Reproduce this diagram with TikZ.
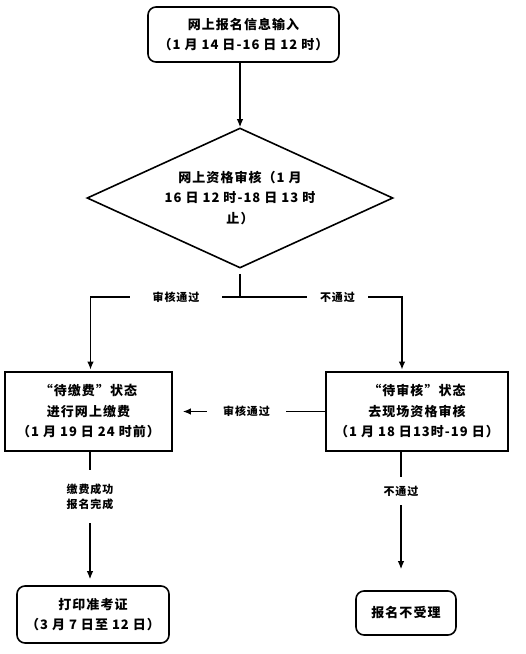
\documentclass[tikz,border=0pt]{standalone}
\usepackage{fontspec}
\setmainfont{Noto Sans CJK SC}[LetterSpace=8]
\usetikzlibrary{shapes.geometric,arrows.meta}
\begin{document}
\begin{tikzpicture}[x=1pt,y=-1pt,
 font=\fontsize{13}{20.5}\selectfont\bfseries,
 rbox/.style={draw,line width=1.6pt,rounded corners=8pt,align=center,inner sep=0},
 sbox/.style={draw,line width=1.8pt,align=center,inner sep=0},
 lbl/.style={font=\fontsize{11}{15}\selectfont\bfseries,inner sep=0,align=center},
 conn/.style={line width=1.3pt},
 arr/.style={conn,-{Latex[length=8pt,width=6.5pt]}}]
\useasboundingbox (0,0) rectangle (526,654);
\node[rbox,minimum width=191pt,minimum height=55pt] (top) at (243.5,34.5) {网上报名信息输入\\（1 月 14 日-16 日 12 时）};
\node[draw,diamond,aspect=2.19,line width=1.6pt,minimum width=306pt,minimum height=140pt,inner sep=0,align=center] (dia) at (240,198) {网上资格审核（1 月\\16 日 12 时-18 日 13 时\\止）};
\coordinate (j) at (240,297);
\node[lbl,minimum width=92pt] (l1) at (176,297) {审核通过};
\node[lbl,minimum width=61pt] (l2) at (337.5,297) {不通过};
\node[sbox,minimum width=167pt,minimum height=79pt] (lbox) at (88.5,411.5) {“待缴费”状态\\进行网上缴费\\（1 月 19 日 24 时前）};
\node[sbox,minimum width=182pt,minimum height=79pt] (rbox) at (417,411.5) {“待审核”状态\\去现场资格审核\\（1 月 18 日13时-19 日）};
\node[lbl,minimum width=79pt] (l3) at (246.5,411.5) {审核通过};
\node[lbl,minimum height=53pt] (l4) at (90,496.5) {缴费成功\\报名完成};
\node[lbl,minimum height=28pt] (l5) at (401,491) {不通过};
\node[rbox,minimum width=152pt,minimum height=57pt] (bl) at (93,614.5) {打印准考证\\（3 月 7 日至 12 日）};
\node[rbox,minimum width=100pt,minimum height=44pt] (br) at (406,613) {报名不受理};
\draw[arr] (top.south -| dia.north) -- (dia.north);
\draw[conn,shorten <=5pt] (dia.south) -- (j);
\draw[conn] (l1.east) -- (j) -- (l2.west);
\draw[arr,shorten >=1.5pt] (l1.west) -| ([xshift=2pt]lbox.north);
\draw[arr,shorten >=1.5pt] (l2.east) -| ([xshift=-15pt]rbox.north);
\draw[conn] (rbox.west) -- (l3.east);
\draw[arr,shorten >=10pt] (l3.west) -- (lbox.east);
\draw[conn] (l4.north |- lbox.south) -- (l4.north);
\draw[arr,shorten >=6pt] (l4.south) -- (l4.south |- bl.north);
\draw[conn] (l5.north |- rbox.south) -- (l5.north);
\draw[arr,shorten >=21pt] (l5.south) -- (l5.south |- br.north);
\end{tikzpicture}
\end{document}
